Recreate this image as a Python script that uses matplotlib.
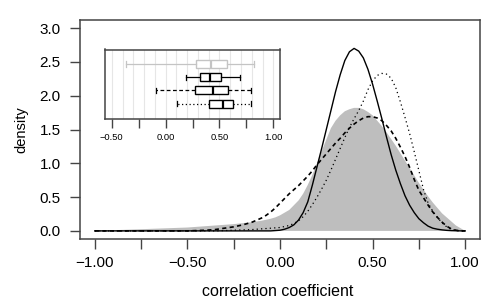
import matplotlib
matplotlib.use('Agg')
from matplotlib import pyplot as plt

plt.rcParams['font.family'] = ['Liberation Sans', 'DejaVu Sans']

r = [-1.00, -0.95, -0.90, -0.85, -0.80, -0.75, -0.70, -0.65, -0.60, -0.55,
     -0.50, -0.45, -0.40, -0.35, -0.30, -0.25, -0.20, -0.15,
     -0.100, -0.075, -0.050, -0.025, 0.000, 0.025, 0.050, 0.075, 0.100,
     0.125, 0.150, 0.175, 0.200, 0.225, 0.250, 0.275, 0.300, 0.325,
     0.350, 0.375, 0.400, 0.425, 0.450, 0.475, 0.500, 0.525, 0.550,
     0.575, 0.600, 0.625, 0.650, 0.675, 0.700, 0.725, 0.750, 0.775,
     0.800, 0.825, 0.850, 0.875, 0.900, 0.925, 0.950, 0.975, 1.000]

dens_gray = [0.0, 0.005, 0.01, 0.015, 0.02, 0.025, 0.03, 0.035, 0.04, 0.045,
             0.05, 0.06, 0.07, 0.08, 0.09, 0.10, 0.115, 0.13,
             0.15, 0.165, 0.18, 0.20, 0.23, 0.27, 0.31, 0.38, 0.45,
             0.55, 0.68, 0.83, 1.00, 1.18, 1.35, 1.52, 1.63, 1.71,
             1.77, 1.80, 1.82, 1.82, 1.80, 1.76, 1.71, 1.63, 1.55,
             1.46, 1.36, 1.26, 1.15, 1.04, 0.93, 0.82, 0.71, 0.61,
             0.51, 0.42, 0.34, 0.26, 0.20, 0.14, 0.08, 0.04, 0.0]

dens_solid = [0, 0, 0, 0, 0, 0, 0, 0, 0, 0,
              0, 0, 0, 0, 0, 0, 0, 0,
              0.0, 0.0, 0.0, 0.005, 0.01, 0.025, 0.05, 0.09, 0.16,
              0.27, 0.43, 0.68, 0.95, 1.22, 1.50, 1.78, 2.06, 2.31,
              2.52, 2.65, 2.70, 2.66, 2.56, 2.39, 2.17, 1.92, 1.66,
              1.39, 1.13, 0.90, 0.70, 0.52, 0.38, 0.27, 0.18, 0.12,
              0.07, 0.04, 0.025, 0.015, 0.008, 0.004, 0.002, 0.0, 0.0]

dens_dashed = [0, 0, 0, 0, 0, 0, 0, 0, 0, 0,
               0.0, 0.005, 0.01, 0.02, 0.04, 0.06, 0.09, 0.13,
               0.19, 0.23, 0.28, 0.34, 0.41, 0.48, 0.55, 0.61, 0.67,
               0.74, 0.81, 0.89, 0.98, 1.06, 1.14, 1.22, 1.30, 1.37,
               1.45, 1.52, 1.58, 1.63, 1.67, 1.69, 1.69, 1.67, 1.63,
               1.56, 1.48, 1.37, 1.24, 1.10, 0.94, 0.76, 0.60, 0.49,
               0.38, 0.28, 0.20, 0.13, 0.07, 0.03, 0.01, 0.0, 0.0]

dens_dotted = [0, 0, 0, 0, 0, 0, 0, 0, 0, 0,
               0, 0, 0, 0, 0.005, 0.01, 0.015, 0.02,
               0.03, 0.035, 0.04, 0.045, 0.05, 0.065, 0.08, 0.11, 0.15,
               0.21, 0.29, 0.39, 0.50, 0.62, 0.75, 0.90, 1.06, 1.22,
               1.38, 1.53, 1.66, 1.78, 1.92, 2.09, 2.22, 2.30, 2.33,
               2.32, 2.26, 2.12, 1.91, 1.68, 1.44, 1.17, 0.89, 0.61,
               0.41, 0.29, 0.20, 0.12, 0.06, 0.02, 0.005, 0.0, 0.0]

# boxplot summaries (whisker low, q1, median, q3, whisker high)
box_names = ['all', 'solid', 'dashed', 'dotted']
whislo = [-0.37, 0.19, -0.09, 0.11]
q1 = [0.28, 0.32, 0.27, 0.40]
med = [0.42, 0.41, 0.44, 0.53]
q3 = [0.57, 0.51, 0.58, 0.63]
whishi = [0.82, 0.69, 0.79, 0.79]
box_colors = ['#c4c4c4', 'black', 'black', 'black']
box_styles = ['-', '-', (0, (3, 2)), (0, (1, 2))]

frame = '#444444'

fig = plt.figure(figsize=(5, 3), dpi=100)
ax = fig.add_axes([0.16, 0.2033, 0.80, 0.73])

ax.fill_between(r, dens_gray, 0, facecolor='#bebebe', edgecolor='none')
ax.plot(r, dens_solid, color='black', lw=1.0)
ax.plot(r, dens_dashed, color='black', lw=1.2, linestyle=(0, (2.5, 2)))
ax.plot(r, dens_dotted, color='black', lw=0.9, linestyle=(0, (1, 2.5)))

ax.set_xlim(-1.08, 1.08)
ax.set_ylim(-0.12, 3.12)
ax.set_xticks([-1, -0.5, 0, 0.5, 1])
ax.set_xticklabels(['\u22121.00', '\u22120.50', '0.00', '0.50', '1.00'])
ax.set_xticks([-0.75, -0.25, 0.25, 0.75], minor=True)
ax.set_yticks([0, 0.5, 1, 1.5, 2, 2.5, 3])
ax.set_yticklabels(['0.0', '0.5', '1.0', '1.5', '2.0', '2.5', '3.0'])
ax.tick_params(which='both', direction='out', length=7.5, width=1, color=frame,
               labelsize=11)
ax.tick_params(axis='x', which='both', pad=5)
ax.tick_params(axis='y', which='both', pad=6.5)
for s in ax.spines.values():
    s.set_color(frame)
    s.set_linewidth(1.1)
ax.set_xlabel('correlation coefficient', fontsize=11.5, va='baseline')
ax.xaxis.set_label_coords(0.495, -0.258)
ax.set_ylabel('density', fontsize=10.5, va='center')
ax.yaxis.set_label_coords(-0.147, 0.5)

# inset with boxplots
ins = fig.add_axes([0.21, 0.602, 0.35, 0.233])
for g in [-0.5, -0.4, -0.3, -0.2, -0.1, 0.0, 0.1, 0.2, 0.3, 0.4,
          0.5, 0.6, 0.7, 0.8, 0.9, 1.0]:
    ins.axvline(g, color='#e6e6e6', lw=0.8, zorder=0)

for i in range(len(box_names)):
    st = [dict(label=box_names[i], whislo=whislo[i], q1=q1[i], med=med[i],
               q3=q3[i], whishi=whishi[i], fliers=[])]
    c = box_colors[i]
    ins.bxp(st, positions=[i + 1], vert=False, widths=0.6, capwidths=0.4,
            showfliers=False, patch_artist=True,
            boxprops=dict(facecolor='white', edgecolor=c, linewidth=1.0),
            medianprops=dict(color=c, linewidth=1.6),
            whiskerprops=dict(color=c, linewidth=0.9, linestyle=box_styles[i]),
            capprops=dict(color=c, linewidth=0.9))

ins.set_xlim(-0.563, 1.062)
ins.set_ylim(5.2, -0.1)
ins.set_yticks([])
ins.set_xticks([-0.5, 0, 0.5, 1])
ins.set_xticklabels(['\u22120.50', '0.00', '0.50', '1.00'])
ins.set_xticks([-0.25, 0.25, 0.75], minor=True)
ins.tick_params(which='both', direction='out', length=6.5, width=1, color=frame,
                labelsize=6.7, pad=3)
for s in ins.spines.values():
    s.set_color(frame)
    s.set_linewidth(1.1)

fig.savefig('out.png', dpi=100)
